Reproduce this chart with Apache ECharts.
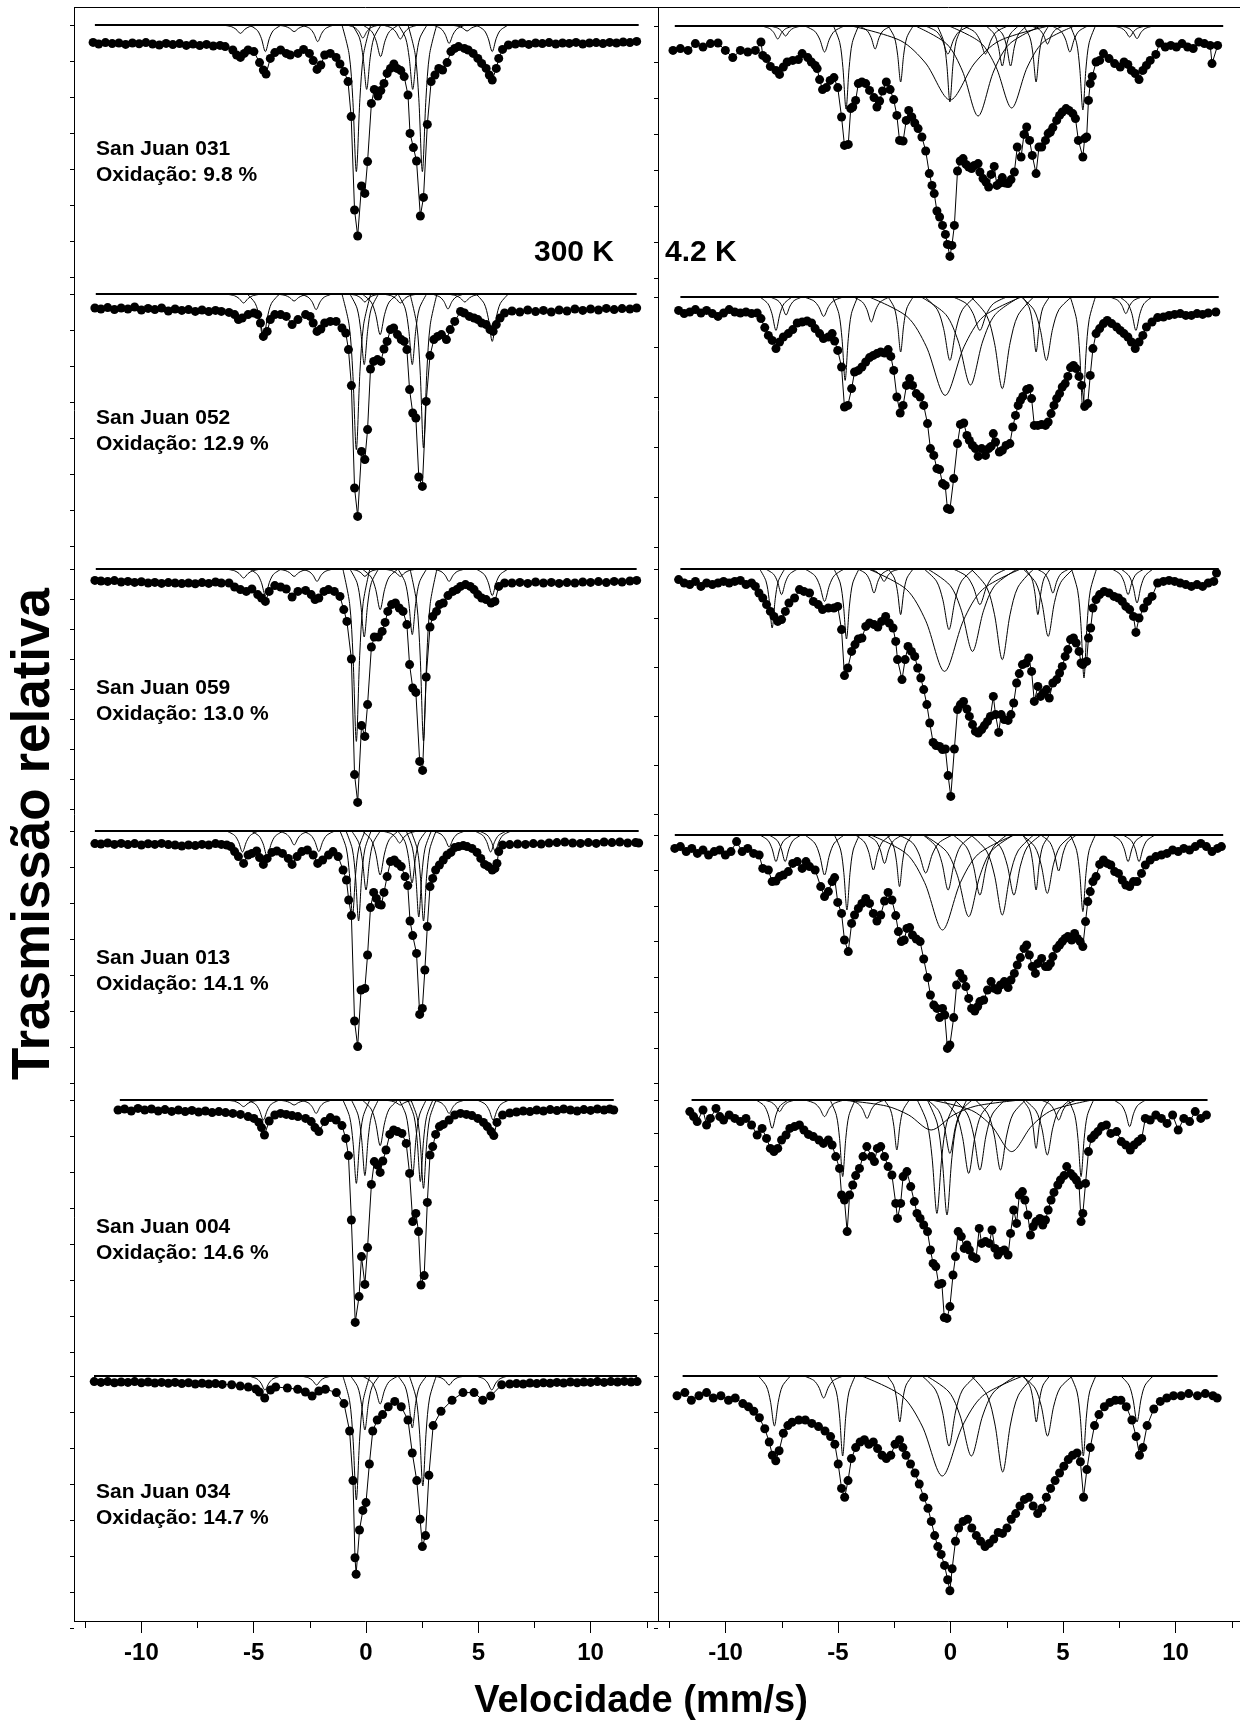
<!DOCTYPE html>
<html>
<head>
<meta charset="utf-8">
<script src="https://cdn.jsdelivr.net/npm/echarts@6/dist/echarts.min.js"></script>
<style>
html,body{margin:0;padding:0;background:#fff}
#chart{width:1240px;height:1726px}
</style>
</head>
<body>
<div id="chart"></div>
<script>
// Mössbauer spectra of San Juan samples: [velocity mm/s, relative transmission %]
// fitted sub-spectra: [centre mm/s, minimum %, half width mm/s]

const sampleNames = ['San Juan 031', 'San Juan 052', 'San Juan 059', 'San Juan 013', 'San Juan 004', 'San Juan 034'];
const oxidationPct = [9.8, 12.9, 13.0, 14.1, 14.6, 14.7];
const velocityTicks = [-10, -5, 0, 5, 10];
const fitSpan300K = [[-12.07, 12.14], [-12.03, 12.05], [-12.03, 12.05], [-12.07, 12.14], [-10.96, 11.03], [-12.11, 12.07]];
const fitSpan4K = [[-12.25, 12.25], [-12.0, 12.05], [-12.0, 12.05], [-12.25, 12.25], [-11.5, 11.55], [-11.9, 12.0]];

const sj031_300K = [
[-12.15,99.13],[-11.9,99.05],[-11.6,99.12],[-11.3,99.07],[-11.0,99.1],[-10.7,99.03],[-10.4,99.1],[-10.1,99.06],[-9.8,99.12],[-9.5,99.05],[-9.2,99.0],[-8.9,99.08],[-8.6,99.02],[-8.3,99.07],[-8.0,98.98],[-7.7,99.05],[-7.4,98.97],[-7.1,99.03],[-6.8,98.95],[-6.5,98.98],[-6.27,98.92],
[-5.93,98.75],[-5.76,98.5],[-5.59,98.38],[-5.42,98.58],[-5.25,98.75],[-4.99,98.67],[-4.74,98.12],[-4.57,97.75],[-4.45,97.55],[-4.26,98.33],[-4.06,98.62],[-3.8,98.75],[-3.55,98.58],[-3.37,98.5],[-3.03,98.58],[-2.78,98.78],[-2.52,98.58],[-2.35,98.22],[-2.18,97.78],[-2.01,98.0],[-1.84,98.5],[-1.59,98.58],[-1.33,98.38],[-1.16,98.05],[-0.97,97.67],[-0.8,97.17],[-0.66,95.42],[-0.51,90.75],[-0.37,89.45],[-0.2,91.95],[-0.05,91.58],[0.07,93.17],[0.24,96.08],[0.37,96.78],[0.53,96.45],[0.66,96.72],[0.8,97.08],[0.94,97.58],[1.09,97.83],[1.24,98.05],[1.38,97.83],[1.55,97.72],[1.7,97.42],[1.87,96.5],[1.96,94.58],[2.11,93.87],[2.25,93.2],[2.42,90.45],[2.56,91.38],[2.73,95.03],[2.9,97.17],[3.07,97.5],[3.24,97.83],[3.41,97.75],[3.61,98.12],[3.78,98.67],[3.95,98.83],[4.12,98.92],[4.38,98.83],[4.55,98.75],[4.77,98.58],[4.98,98.33],[5.15,98.08],[5.35,97.83],[5.49,97.5],[5.62,97.25],[5.8,97.83],[5.91,98.33],[6.08,98.78],[6.34,99.0],
[6.65,99.05],[6.95,99.1],[7.25,99.03],[7.55,99.1],[7.85,99.07],[8.15,99.12],[8.45,99.05],[8.75,99.1],[9.05,99.08],[9.35,99.13],[9.65,99.05],[9.95,99.1],[10.25,99.12],[10.55,99.07],[10.85,99.13],[11.15,99.1],[11.45,99.15],[11.75,99.12],[12.05,99.18]
];
const sj031_300K_sites = [[-0.43,92.67,0.16],[2.51,92.67,0.16],[0.03,96.78,0.16],[2.08,96.78,0.16],[0.65,98.42,0.2],[1.53,99.3,0.2],[-4.48,98.67,0.18],[-2.15,99.17,0.18],[-0.14,99.35,0.18],[3.7,99.08,0.18],[5.62,98.67,0.18],[-5.59,99.58,0.2],[-3.2,99.67,0.2],[4.5,99.7,0.2]];

const sj052_300K = [
[-12.07,99.3],[-11.8,99.25],[-11.5,99.32],[-11.2,99.22],[-10.9,99.3],[-10.6,99.25],[-10.3,99.35],[-10.0,99.2],[-9.7,99.28],[-9.4,99.22],[-9.1,99.3],[-8.8,99.15],[-8.5,99.25],[-8.2,99.18],[-7.9,99.22],[-7.6,99.13],[-7.3,99.2],[-7.0,99.12],[-6.7,99.18],[-6.44,99.13],[-6.1,99.08],
[-5.85,98.97],[-5.68,98.72],[-5.51,98.8],[-5.25,98.97],[-4.99,99.05],[-4.82,98.97],[-4.7,98.55],[-4.57,97.88],[-4.4,98.13],[-4.26,98.72],[-4.06,98.97],[-3.8,98.97],[-3.55,98.88],[-3.29,98.47],[-3.03,98.72],[-2.69,98.97],[-2.49,98.88],[-2.35,98.55],[-2.18,98.13],[-2.01,98.25],[-1.84,98.55],[-1.59,98.63],[-1.33,98.63],[-1.07,98.3],[-0.9,98.05],[-0.78,97.22],[-0.65,95.42],[-0.51,90.3],[-0.37,88.88],[-0.2,92.13],[-0.05,91.72],[0.07,93.22],[0.2,96.25],[0.34,96.63],[0.51,96.72],[0.66,96.63],[0.8,97.25],[0.94,97.63],[1.09,98.22],[1.23,98.3],[1.4,97.97],[1.57,97.72],[1.7,97.63],[1.82,97.22],[1.94,95.22],[2.08,94.05],[2.22,93.8],[2.35,90.85],[2.51,90.38],[2.68,94.63],[2.85,96.92],[3.02,97.72],[3.19,97.88],[3.36,97.97],[3.58,97.72],[3.75,98.22],[3.95,98.63],[4.21,99.13],[4.38,99.05],[4.6,98.88],[4.81,98.8],[4.98,98.72],[5.15,98.55],[5.35,98.47],[5.52,98.22],[5.66,98.13],[5.8,98.47],[5.97,98.8],[6.17,99.05],
[6.5,99.15],[6.85,99.1],[7.2,99.2],[7.55,99.12],[7.9,99.18],[8.25,99.1],[8.6,99.2],[8.95,99.15],[9.3,99.25],[9.65,99.18],[10.0,99.25],[10.35,99.2],[10.7,99.28],[11.05,99.22],[11.4,99.27],[11.75,99.25],[12.05,99.3]
];
const sj052_300K_sites = [[-0.43,92.22,0.16],[2.56,92.3,0.15],[-0.08,96.47,0.16],[2.06,96.47,0.16],[0.63,97.97,0.2],[1.53,99.55,0.2],[-4.57,97.65,0.18],[-2.22,99.22,0.18],[-0.05,99.6,0.18],[3.65,99.25,0.18],[5.62,97.63,0.18],[-5.45,99.55,0.2],[-3.2,99.65,0.2],[4.4,99.6,0.2]];

const sj059_300K = [
[-12.07,99.43],[-11.8,99.4],[-11.5,99.38],[-11.2,99.42],[-10.9,99.35],[-10.6,99.38],[-10.3,99.33],[-10.0,99.36],[-9.7,99.3],[-9.4,99.33],[-9.1,99.28],[-8.8,99.32],[-8.5,99.3],[-8.2,99.27],[-7.9,99.3],[-7.6,99.26],[-7.3,99.32],[-7.0,99.28],[-6.7,99.35],[-6.44,99.3],[-6.1,99.3],
[-5.85,99.1],[-5.59,98.97],[-5.33,98.88],[-5.08,99.0],[-4.82,98.72],[-4.65,98.55],[-4.48,98.38],[-4.31,98.88],[-4.06,99.17],[-3.8,99.1],[-3.55,99.0],[-3.29,98.6],[-3.03,98.88],[-2.69,98.93],[-2.44,98.72],[-2.27,98.47],[-2.1,98.55],[-1.87,98.88],[-1.67,98.97],[-1.41,98.88],[-1.16,98.63],[-0.99,97.97],[-0.85,97.38],[-0.65,95.5],[-0.51,89.72],[-0.37,88.33],[-0.2,92.17],[-0.05,91.63],[0.07,93.22],[0.24,96.1],[0.37,96.6],[0.55,96.6],[0.72,96.88],[0.85,97.33],[0.97,97.88],[1.14,98.22],[1.31,98.3],[1.48,98.05],[1.65,97.88],[1.82,97.22],[1.94,95.22],[2.08,94.05],[2.22,93.83],[2.39,90.38],[2.52,89.93],[2.68,94.6],[2.85,97.1],[2.97,97.63],[3.14,97.88],[3.27,98.22],[3.44,98.3],[3.65,98.67],[3.87,98.88],[4.04,98.97],[4.21,99.13],[4.43,99.22],[4.64,99.13],[4.81,98.97],[4.98,98.72],[5.15,98.55],[5.35,98.47],[5.57,98.3],[5.74,98.38],[5.91,99.13],[6.17,99.3],
[6.5,99.3],[6.85,99.33],[7.2,99.28],[7.55,99.35],[7.9,99.3],[8.25,99.33],[8.6,99.28],[8.95,99.32],[9.3,99.3],[9.65,99.35],[10.0,99.33],[10.35,99.37],[10.7,99.32],[11.05,99.38],[11.4,99.35],[11.75,99.4],[12.05,99.43]
];
const sj059_300K_sites = [[-0.43,91.38,0.15],[2.56,91.4,0.15],[-0.08,96.6,0.16],[2.06,96.72,0.16],[0.63,97.97,0.2],[1.53,99.63,0.2],[-4.48,98.67,0.18],[-2.18,99.38,0.18],[-0.05,99.63,0.18],[3.7,99.38,0.18],[5.62,98.67,0.18],[-5.45,99.55,0.2],[-3.2,99.63,0.2]];

const sj013_300K = [
[-12.07,99.37],[-11.8,99.35],[-11.5,99.4],[-11.2,99.33],[-10.9,99.38],[-10.6,99.32],[-10.3,99.37],[-10.0,99.3],[-9.7,99.36],[-9.4,99.33],[-9.1,99.38],[-8.8,99.32],[-8.5,99.3],[-8.2,99.25],[-7.9,99.3],[-7.6,99.27],[-7.3,99.33],[-7.0,99.3],[-6.7,99.37],[-6.44,99.33],[-6.2,99.3],
[-6.02,99.22],[-5.85,98.97],[-5.68,98.72],[-5.45,98.38],[-5.25,98.8],[-5.08,98.88],[-4.87,99.0],[-4.74,98.67],[-4.57,98.33],[-4.4,98.63],[-4.19,98.93],[-3.97,99.0],[-3.72,98.88],[-3.46,98.63],[-3.29,98.33],[-3.07,98.72],[-2.86,98.97],[-2.61,99.05],[-2.35,98.8],[-2.15,98.38],[-1.93,98.55],[-1.67,98.8],[-1.47,98.97],[-1.24,98.72],[-1.02,98.05],[-0.87,97.55],[-0.77,96.55],[-0.65,95.77],[-0.51,90.5],[-0.37,89.22],[-0.22,92.05],[-0.05,92.13],[0.07,93.8],[0.2,96.17],[0.34,96.93],[0.46,96.63],[0.58,96.33],[0.68,96.3],[0.8,96.93],[0.94,97.72],[1.09,98.47],[1.26,98.55],[1.4,98.38],[1.57,98.22],[1.74,97.72],[1.86,97.27],[1.96,95.5],[2.08,94.77],[2.25,93.88],[2.39,90.83],[2.51,91.13],[2.62,93.05],[2.73,95.22],[2.85,97.22],[2.97,97.63],[3.1,98.05],[3.27,98.3],[3.44,98.55],[3.61,98.8],[3.78,98.93],[3.95,99.17],[4.12,99.22],[4.33,99.27],[4.5,99.22],[4.72,99.13],[4.94,98.93],[5.11,98.63],[5.28,98.33],[5.45,98.22],[5.62,98.05],[5.74,98.13],[5.83,98.38],[5.91,98.97],[6.08,99.3],
[6.4,99.32],[6.75,99.35],[7.1,99.33],[7.45,99.37],[7.8,99.35],[8.15,99.4],[8.5,99.42],[8.85,99.45],[9.2,99.4],[9.55,99.38],[9.9,99.42],[10.25,99.38],[10.6,99.45],[10.95,99.42],[11.3,99.45],[11.65,99.4],[12.0,99.42],[12.14,99.4]
];
const sj013_300K_sites = [[-0.6,95.75,0.14],[-0.33,95.5,0.14],[0.0,97.05,0.16],[0.63,97.8,0.2],[2.05,97.4,0.16],[2.35,95.7,0.14],[2.56,95.5,0.14],[1.5,99.4,0.2],[-5.5,98.95,0.18],[-4.4,98.72,0.18],[-3.2,99.3,0.18],[-2.1,98.97,0.18],[3.7,99.2,0.18],[5.55,98.95,0.18],[5.75,99.0,0.18]];

const sj004_300K = [
[-11.04,99.5],[-10.75,99.55],[-10.45,99.45],[-10.15,99.58],[-9.85,99.5],[-9.55,99.55],[-9.25,99.45],[-8.95,99.52],[-8.65,99.43],[-8.35,99.5],[-8.05,99.42],[-7.75,99.48],[-7.45,99.4],[-7.15,99.45],[-6.85,99.37],[-6.55,99.42],[-6.25,99.37],[-5.93,99.33],
[-5.59,99.28],[-5.25,99.17],[-4.99,99.08],[-4.77,98.88],[-4.65,98.62],[-4.52,98.25],[-4.31,98.95],[-4.06,99.25],[-3.8,99.33],[-3.55,99.28],[-3.29,99.22],[-3.03,99.17],[-2.69,99.08],[-2.44,98.92],[-2.27,98.62],[-2.1,98.42],[-1.84,98.92],[-1.59,99.12],[-1.33,99.0],[-1.07,98.72],[-0.9,98.08],[-0.78,97.22],[-0.65,94.0],[-0.48,88.88],[-0.31,90.17],[-0.2,92.17],[-0.05,90.78],[0.07,92.62],[0.24,95.78],[0.37,96.92],[0.51,96.75],[0.63,96.38],[0.75,96.95],[0.89,97.5],[1.06,98.28],[1.23,98.5],[1.4,98.42],[1.6,98.33],[1.79,97.83],[1.94,96.33],[2.08,93.92],[2.22,94.33],[2.34,93.42],[2.45,90.75],[2.59,91.22],[2.73,94.88],[2.85,97.25],[2.97,97.67],[3.1,98.28],[3.27,98.67],[3.44,98.78],[3.7,99.0],[3.95,99.25],[4.21,99.33],[4.47,99.28],[4.72,99.22],[4.98,99.08],[5.23,98.88],[5.4,98.67],[5.57,98.42],[5.69,98.22],[5.83,98.88],[6.08,99.25],
[6.4,99.35],[6.7,99.4],[7.0,99.45],[7.3,99.42],[7.6,99.5],[7.9,99.45],[8.2,99.52],[8.5,99.47],[8.8,99.55],[9.1,99.5],[9.4,99.45],[9.7,99.52],[10.0,99.48],[10.3,99.55],[10.6,99.5],[10.85,99.55],[11.03,99.5]
];
const sj004_300K_sites = [[-0.43,95.83,0.15],[-0.05,96.22,0.15],[0.63,97.72,0.2],[2.08,96.25,0.15],[2.42,95.92,0.14],[2.56,95.58,0.14],[1.53,99.75,0.2],[-4.57,99.0,0.18],[-2.22,99.33,0.18],[3.7,99.33,0.18],[5.66,99.0,0.18],[-5.45,99.67,0.2],[-3.2,99.75,0.2]];

const sj034_300K = [
[-12.1,99.72],[-11.8,99.68],[-11.5,99.72],[-11.2,99.66],[-10.9,99.7],[-10.6,99.68],[-10.3,99.72],[-10.0,99.66],[-9.7,99.7],[-9.4,99.65],[-9.1,99.68],[-8.8,99.64],[-8.5,99.68],[-8.2,99.62],[-7.9,99.66],[-7.6,99.6],[-7.3,99.64],[-7.0,99.6],[-6.7,99.62],[-6.4,99.58],
[-5.98,99.56],[-5.6,99.5],[-5.24,99.45],[-4.9,99.35],[-4.75,99.2],[-4.51,98.9],[-4.25,99.3],[-4.02,99.45],[-3.5,99.4],[-3.04,99.34],[-2.7,99.2],[-2.4,99.0],[-2.1,99.25],[-1.81,99.34],[-1.32,99.17],[-0.98,98.62],[-0.73,97.25],[-0.58,94.77],[-0.49,90.91],[-0.44,90.09],[-0.29,92.3],[-0.14,93.28],[0.0,93.67],[0.15,95.6],[0.3,97.25],[0.5,97.8],[0.74,98.07],[0.99,98.46],[1.28,98.73],[1.57,98.46],[1.87,97.8],[2.06,96.15],[2.26,94.77],[2.41,92.84],[2.51,91.47],[2.65,92.02],[2.8,95.04],[2.99,97.52],[3.34,98.24],[3.83,98.79],[4.32,99.17],[4.81,99.17],[5.2,98.79],[5.55,99.0],[6.04,99.56],
[6.4,99.6],[6.7,99.62],[7.0,99.6],[7.3,99.65],[7.6,99.62],[7.9,99.66],[8.2,99.64],[8.5,99.68],[8.8,99.65],[9.1,99.7],[9.4,99.66],[9.7,99.7],[10.0,99.68],[10.3,99.72],[10.6,99.68],[10.9,99.72],[11.2,99.7],[11.5,99.73],[11.8,99.7],[12.07,99.72]
];
const sj034_300K_sites = [[-0.43,93.8,0.15],[2.53,94.5,0.15],[-0.05,97.3,0.16],[2.06,97.4,0.16],[0.63,98.6,0.2],[-4.5,99.3,0.18],[-2.2,99.55,0.18],[3.7,99.55,0.18],[5.6,99.3,0.18]];

const sj031_4K = [
[-12.33,98.78],[-12.0,98.87],[-11.66,98.78],[-11.33,99.12],[-10.99,98.95],[-10.66,99.12],[-10.32,99.15],[-9.99,98.78],[-9.66,98.42],[-9.32,98.78],[-8.99,98.7],[-8.65,98.78],[-8.4,99.2],[-8.32,98.53],[-8.15,98.37],[-7.98,97.98],[-7.73,97.78],[-7.57,97.58],[-7.4,97.95],[-7.23,98.2],[-6.98,98.28],[-6.73,98.32],[-6.56,98.62],[-6.31,98.42],[-6.15,98.2],[-5.98,98.03],[-5.89,97.87],[-5.78,97.32],[-5.65,96.82],[-5.48,96.92],[-5.31,97.28],[-5.14,97.42],[-4.97,96.92],[-4.8,95.45],[-4.67,94.03],[-4.5,94.08],[-4.39,95.87],[-4.3,95.95],[-4.17,96.28],[-4.05,97.12],[-3.89,97.2],[-3.72,97.12],[-3.55,96.78],[-3.35,96.42],[-3.22,95.95],[-3.1,96.25],[-2.97,96.75],[-2.8,97.2],[-2.63,96.82],[-2.47,96.32],[-2.33,95.53],[-2.21,94.28],[-2.05,94.25],[-1.91,95.28],[-1.8,95.78],[-1.66,95.45],[-1.53,95.15],[-1.38,94.87],[-1.21,94.45],[-1.04,93.75],[-0.88,92.62],[-0.76,92.03],[-0.66,91.62],[-0.54,90.75],[-0.42,90.45],[-0.29,90.03],[-0.16,89.58],[-0.07,89.08],[0.04,88.48],[0.13,89.03],[0.24,90.03],[0.38,92.75],[0.5,93.25],[0.63,93.37],[0.76,93.08],[0.88,92.95],[1.01,92.87],[1.13,93.03],[1.3,93.12],[1.38,92.7],[1.52,92.37],[1.65,92.2],[1.77,91.95],[1.88,92.58],[2.02,92.98],[2.14,92.03],[2.27,92.15],[2.38,92.42],[2.52,92.15],[2.64,92.12],[2.77,92.32],[2.92,92.7],[3.05,93.95],[3.22,93.45],[3.35,94.58],[3.47,94.95],[3.6,94.28],[3.72,93.53],[3.89,92.62],[4.02,93.95],[4.14,93.95],[4.31,94.28],[4.43,94.62],[4.53,94.7],[4.64,94.92],[4.81,95.28],[4.94,95.53],[5.06,95.7],[5.23,95.87],[5.36,95.78],[5.53,95.62],[5.65,95.37],[5.78,94.28],[5.98,93.45],[6.06,94.37],[6.15,94.45],[6.23,96.28],[6.31,97.12],[6.4,97.48],[6.57,98.2],[6.73,98.28],[6.9,98.62],[7.15,98.37],[7.4,98.12],[7.65,97.95],[7.82,98.2],[7.99,98.08],[8.15,97.78],[8.32,97.62],[8.49,97.32],[8.66,97.78],[8.82,98.03],[8.99,98.28],[9.24,98.58],[9.41,99.15],[9.66,98.95],[9.91,99.03],[10.16,98.95],[10.41,99.12],[10.66,98.95],[10.91,98.87],[11.16,99.2],[11.41,99.12],[11.67,99.03],[11.75,98.12],[12.0,99.03]
];
const sj031_4K_sites = [[-7.65,99.35,0.18],[-7.3,99.5,0.18],[-5.56,98.7,0.22],[-4.6,95.85,0.14],[-3.3,98.85,0.18],[-2.16,97.2,0.14],[0.04,96.2,0.14],[-0.05,98.6,0.25],[1.63,98.6,0.25],[2.38,98.0,0.18],[2.75,98.0,0.18],[3.89,97.2,0.14],[4.4,99.1,0.18],[5.4,98.7,0.2],[5.98,95.8,0.14],[8.07,99.45,0.18],[8.4,99.37,0.18],[0.05,96.3,1.1],[1.3,95.5,0.7],[2.8,95.9,0.7]];

const sj052_4K = [
[-12.08,99.33],[-11.83,99.17],[-11.58,99.25],[-11.33,99.37],[-11.08,99.2],[-10.83,99.33],[-10.57,99.17],[-10.32,99.03],[-10.07,99.2],[-9.82,99.37],[-9.57,99.25],[-9.32,99.2],[-9.07,99.25],[-8.82,99.17],[-8.57,99.2],[-8.4,98.92],[-8.23,98.47],[-8.07,98.08],[-7.9,97.83],[-7.73,97.42],[-7.57,97.75],[-7.4,98.0],[-7.18,98.17],[-6.98,98.37],[-6.78,98.7],[-6.56,98.75],[-6.34,98.8],[-6.14,98.7],[-5.98,98.42],[-5.78,98.17],[-5.61,97.92],[-5.39,98.0],[-5.22,98.17],[-5.11,97.8],[-4.97,97.33],[-4.8,96.5],[-4.67,94.5],[-4.52,94.58],[-4.35,95.42],[-4.22,96.25],[-4.05,96.33],[-3.89,96.5],[-3.72,96.75],[-3.55,96.97],[-3.38,97.08],[-3.22,97.17],[-3.05,97.25],[-2.88,97.2],[-2.72,97.37],[-2.6,97.03],[-2.47,96.33],[-2.33,95.0],[-2.18,94.2],[-2.05,94.58],[-1.9,95.58],[-1.76,95.92],[-1.63,95.58],[-1.46,95.17],[-1.29,95.0],[-1.13,94.58],[-0.96,93.67],[-0.83,92.42],[-0.68,92.08],[-0.54,91.42],[-0.42,91.37],[-0.29,90.67],[-0.17,90.58],[-0.07,89.42],[0.04,89.37],[0.21,90.92],[0.38,92.67],[0.51,93.63],[0.66,93.7],[0.8,93.08],[0.91,92.83],[1.05,92.58],[1.18,92.42],[1.3,92.03],[1.46,92.42],[1.63,92.08],[1.77,92.42],[1.88,92.53],[1.98,93.17],[2.08,92.75],[2.25,92.25],[2.38,92.33],[2.55,92.58],[2.72,92.67],[2.85,93.5],[2.97,94.08],[3.09,94.58],[3.19,94.83],[3.3,95.03],[3.47,95.37],[3.59,95.42],[3.69,94.92],[3.81,93.58],[3.97,93.58],[4.14,93.63],[4.31,93.58],[4.43,93.75],[4.56,94.17],[4.69,94.58],[4.81,94.92],[4.94,95.17],[5.06,95.5],[5.19,95.67],[5.31,96.03],[5.43,96.47],[5.56,96.58],[5.68,96.42],[5.81,96.03],[5.93,95.58],[6.06,94.53],[6.2,94.67],[6.31,96.08],[6.43,97.42],[6.57,98.17],[6.73,98.42],[6.9,98.67],[7.07,98.83],[7.27,98.67],[7.49,98.5],[7.65,98.33],[7.82,98.17],[7.99,98.0],[8.15,97.75],[8.32,97.42],[8.49,97.75],[8.66,98.08],[8.82,98.5],[9.07,98.75],[9.32,98.97],[9.58,99.0],[9.83,99.08],[10.08,99.13],[10.33,99.17],[10.58,99.08],[10.83,99.08],[11.08,99.17],[11.33,99.13],[11.58,99.2],[11.92,99.25]
];
const sj052_4K_sites = [[-7.73,98.33,0.18],[-7.28,99.1,0.18],[-5.6,99.03,0.22],[-4.64,95.83,0.14],[-3.47,98.75,0.2],[-2.16,97.25,0.14],[0.04,96.83,0.28],[-0.17,95.08,0.85],[0.96,95.6,0.55],[1.38,98.33,0.3],[2.38,95.42,0.35],[3.89,97.25,0.15],[4.35,96.83,0.28],[5.98,94.33,0.14],[7.9,99.17,0.18],[8.35,98.33,0.18]];

const sj059_4K = [
[-12.08,99.47],[-11.83,99.3],[-11.58,99.22],[-11.33,99.38],[-11.08,99.13],[-10.83,99.3],[-10.57,99.22],[-10.32,99.3],[-10.07,99.38],[-9.82,99.3],[-9.57,99.38],[-9.32,99.43],[-9.07,99.22],[-8.82,99.3],[-8.65,99.13],[-8.49,98.8],[-8.32,98.55],[-8.15,98.22],[-7.98,97.88],[-7.82,97.63],[-7.65,97.38],[-7.48,97.47],[-7.31,97.88],[-7.15,98.3],[-6.9,98.55],[-6.68,98.97],[-6.48,98.88],[-6.23,98.8],[-6.06,98.38],[-5.84,98.22],[-5.65,97.97],[-5.39,98.05],[-5.14,98.05],[-4.97,98.13],[-4.8,96.97],[-4.67,94.67],[-4.52,95.05],[-4.35,95.88],[-4.2,96.22],[-4.05,96.5],[-3.89,96.55],[-3.72,97.13],[-3.55,97.3],[-3.35,97.22],[-3.18,97.1],[-3.01,97.38],[-2.83,97.63],[-2.67,97.3],[-2.5,97.05],[-2.38,96.38],[-2.3,95.47],[-2.1,94.47],[-1.96,95.47],[-1.83,96.13],[-1.68,95.88],[-1.53,95.63],[-1.4,95.05],[-1.26,94.55],[-1.13,93.97],[-0.99,93.22],[-0.86,92.3],[-0.71,91.33],[-0.58,91.17],[-0.42,91.13],[-0.29,90.97],[-0.16,91.0],[-0.04,89.67],[0.08,88.63],[0.24,91.0],[0.38,92.97],[0.51,93.22],[0.65,93.38],[0.8,93.0],[0.91,92.63],[1.05,92.22],[1.18,91.88],[1.31,91.8],[1.46,91.97],[1.58,92.17],[1.72,92.38],[1.85,92.63],[1.98,93.63],[2.08,92.72],[2.22,91.83],[2.33,92.72],[2.47,92.47],[2.64,92.43],[2.77,92.72],[2.89,93.3],[3.02,94.3],[3.14,94.77],[3.28,95.22],[3.44,95.3],[3.56,95.55],[3.69,94.88],[3.81,93.38],[3.97,94.13],[4.09,93.63],[4.22,93.8],[4.36,93.97],[4.48,93.55],[4.64,94.3],[4.81,94.47],[4.94,94.8],[5.06,95.13],[5.19,95.63],[5.31,95.97],[5.43,96.47],[5.56,96.55],[5.68,96.3],[5.81,95.88],[5.9,95.3],[5.98,95.22],[6.15,95.38],[6.23,96.55],[6.33,97.05],[6.43,98.05],[6.57,98.47],[6.73,98.72],[6.93,98.88],[7.15,98.8],[7.37,98.63],[7.57,98.55],[7.74,98.38],[7.9,98.13],[8.07,97.97],[8.24,97.63],[8.35,96.83],[8.49,97.55],[8.7,98.05],[8.87,98.38],[9.07,98.63],[9.32,99.3],[9.58,99.38],[9.83,99.43],[10.08,99.38],[10.33,99.3],[10.58,99.22],[10.83,99.13],[11.08,99.22],[11.33,99.13],[11.58,99.3],[11.83,99.38],[11.95,99.8]
];
const sj059_4K_sites = [[-7.9,97.05,0.14],[-7.48,98.72,0.18],[-5.56,98.38,0.22],[-4.58,96.5,0.14],[-3.35,98.8,0.18],[-2.9,99.38,0.18],[-2.16,97.72,0.14],[0.0,96.97,0.28],[-0.2,94.88,0.85],[1.05,95.88,0.5],[1.38,98.22,0.3],[2.38,95.47,0.35],[3.97,97.72,0.14],[4.43,96.63,0.28],[4.64,98.8,0.18],[6.03,94.55,0.14],[8.0,98.72,0.18],[8.4,98.3,0.18]];

const sj013_4K = [
[-12.25,99.33],[-12.0,99.42],[-11.74,99.17],[-11.49,99.33],[-11.24,99.08],[-10.99,99.25],[-10.74,99.0],[-10.49,99.17],[-10.24,99.25],[-9.99,99.0],[-9.74,99.17],[-9.49,99.67],[-9.24,99.17],[-8.99,99.33],[-8.73,99.08],[-8.48,99.0],[-8.32,98.33],[-8.07,98.25],[-7.9,97.67],[-7.73,97.7],[-7.57,97.92],[-7.4,98.0],[-7.18,98.17],[-6.98,98.58],[-6.78,98.67],[-6.56,98.33],[-6.39,98.67],[-6.23,98.42],[-5.98,98.25],[-5.73,97.42],[-5.56,96.92],[-5.39,97.17],[-5.22,97.67],[-5.11,97.87],[-4.97,96.63],[-4.8,96.08],[-4.67,94.75],[-4.5,94.17],[-4.35,95.58],[-4.22,96.0],[-4.05,96.33],[-3.89,96.58],[-3.72,96.83],[-3.55,96.58],[-3.38,96.08],[-3.22,95.7],[-3.05,96.0],[-2.88,96.7],[-2.72,97.13],[-2.55,96.75],[-2.38,95.97],[-2.26,95.17],[-2.13,94.67],[-2.0,94.75],[-1.88,95.33],[-1.76,95.37],[-1.63,95.0],[-1.46,94.8],[-1.29,94.67],[-1.13,93.8],[-0.96,92.87],[-0.83,92.0],[-0.68,91.5],[-0.54,91.33],[-0.42,90.87],[-0.29,91.33],[-0.19,91.0],[-0.07,89.33],[0.04,89.5],[0.21,90.87],[0.34,92.5],[0.48,93.08],[0.63,92.83],[0.75,92.42],[0.88,91.83],[1.01,91.33],[1.15,91.2],[1.28,91.42],[1.38,91.67],[1.55,91.75],[1.72,92.25],[1.88,92.67],[2.02,92.33],[2.17,92.25],[2.3,92.5],[2.47,92.67],[2.64,92.37],[2.77,92.75],[2.92,93.08],[3.05,93.5],[3.19,93.87],[3.35,94.33],[3.47,94.5],[3.59,94.0],[3.72,93.42],[3.86,93.08],[3.97,93.58],[4.14,93.83],[4.31,93.42],[4.43,93.42],[4.53,93.58],[4.64,93.92],[4.81,94.33],[4.94,94.5],[5.06,94.67],[5.19,94.83],[5.31,94.92],[5.48,94.75],[5.61,95.08],[5.73,94.83],[5.86,94.67],[5.98,94.42],[6.1,95.67],[6.2,96.67],[6.31,97.17],[6.43,97.67],[6.57,97.92],[6.73,98.53],[6.9,98.75],[7.07,98.58],[7.23,98.5],[7.4,98.17],[7.57,98.08],[7.74,97.75],[7.9,97.5],[8.07,97.42],[8.24,97.67],[8.4,97.67],[8.6,98.08],[8.77,98.5],[8.99,98.75],[9.24,98.92],[9.49,99.0],[9.74,99.08],[9.99,99.25],[10.24,99.17],[10.49,99.33],[10.75,99.25],[11.0,99.42],[11.25,99.58],[11.5,99.42],[11.75,99.17],[12.0,99.33],[12.17,99.42]
];
const sj013_4K_sites = [[-7.73,98.67,0.18],[-7.32,98.67,0.18],[-5.56,98.0,0.22],[-4.56,96.25,0.14],[-3.38,98.25,0.2],[-2.88,98.58,0.2],[-2.21,97.42,0.14],[-1.04,98.1,0.3],[-0.04,97.25,0.28],[-0.29,95.25,0.8],[0.88,95.92,0.5],[1.38,97.0,0.3],[2.38,96.0,0.35],[2.9,97.0,0.3],[3.89,97.25,0.15],[4.39,97.08,0.28],[4.9,98.2,0.2],[5.98,96.17,0.14],[8.0,98.67,0.18],[8.49,98.67,0.18]];

const sj004_4K = [
[-11.58,99.42],[-11.41,99.17],[-11.25,98.92],[-10.99,99.5],[-10.83,98.75],[-10.66,99.08],[-10.41,99.58],[-10.24,99.17],[-10.07,99.0],[-9.82,99.25],[-9.57,99.08],[-9.32,98.92],[-9.07,99.08],[-8.82,98.75],[-8.57,98.25],[-8.35,98.58],[-8.15,98.08],[-7.98,97.58],[-7.82,97.42],[-7.65,97.58],[-7.48,98.0],[-7.28,98.25],[-7.11,98.58],[-6.9,98.67],[-6.68,98.75],[-6.48,98.5],[-6.28,98.28],[-6.06,98.17],[-5.81,98.0],[-5.61,97.83],[-5.39,98.0],[-5.22,97.75],[-5.06,97.17],[-4.89,96.58],[-4.8,95.25],[-4.67,95.0],[-4.55,93.42],[-4.44,95.25],[-4.3,95.75],[-4.17,96.22],[-4.0,96.58],[-3.84,97.17],[-3.67,97.67],[-3.47,97.17],[-3.33,96.92],[-3.2,97.58],[-3.05,97.67],[-2.88,97.17],[-2.72,96.67],[-2.55,96.25],[-2.38,94.83],[-2.3,94.08],[-2.16,94.83],[-2.05,96.17],[-1.88,96.42],[-1.71,95.67],[-1.55,94.92],[-1.43,94.33],[-1.29,94.08],[-1.13,93.75],[-0.96,93.42],[-0.83,92.5],[-0.71,91.83],[-0.59,91.67],[-0.46,90.78],[-0.32,90.83],[-0.21,89.12],[-0.09,89.08],[0.04,89.67],[0.18,91.25],[0.29,92.17],[0.41,93.42],[0.55,93.17],[0.68,92.58],[0.8,92.75],[0.91,92.5],[1.05,92.17],[1.21,92.08],[1.35,93.58],[1.46,92.83],[1.63,92.92],[1.8,92.83],[1.92,93.5],[2.05,92.58],[2.18,92.25],[2.3,92.42],[2.47,92.5],[2.64,92.25],[2.75,93.33],[2.89,94.5],[3.02,93.83],[3.14,95.25],[3.28,95.42],[3.39,95.0],[3.52,94.25],[3.64,93.25],[3.76,93.67],[3.89,93.92],[4.06,94.08],[4.19,93.75],[4.31,94.0],[4.43,94.5],[4.56,95.0],[4.69,95.38],[4.86,95.75],[4.98,96.0],[5.14,96.22],[5.26,96.67],[5.43,96.33],[5.56,96.17],[5.69,96.0],[5.81,95.75],[5.9,93.92],[5.98,94.33],[6.1,95.83],[6.23,97.42],[6.36,98.08],[6.5,98.25],[6.65,98.42],[6.82,98.67],[7.03,98.75],[7.23,98.33],[7.49,98.42],[7.7,97.92],[7.9,97.75],[8.1,97.5],[8.27,97.75],[8.44,97.92],[8.61,98.08],[8.77,99.08],[8.99,99.0],[9.24,99.25],[9.49,99.08],[9.74,98.83],[9.99,99.25],[10.24,98.5],[10.49,99.08],[10.75,98.92],[11.0,99.42],[11.25,99.08],[11.5,99.25]
];
const sj004_4K_sites = [[-7.9,98.58,0.18],[-7.57,99.42,0.18],[-5.56,99.17,0.22],[-4.75,96.17,0.14],[-3.66,99.08,0.2],[-2.33,97.5,0.14],[-0.54,94.33,0.22],[-0.09,94.25,0.22],[0.04,97.33,0.25],[-0.8,98.5,1.0],[0.88,96.33,0.28],[1.38,96.5,0.28],[2.3,96.5,0.28],[2.8,97.42,0.9],[3.89,97.58,0.15],[4.39,97.25,0.25],[4.9,99.0,0.2],[5.9,96.17,0.14],[8.07,98.67,0.18]];

const sj034_4K = [
[-12.15,99.01],[-11.8,99.17],[-11.51,98.79],[-11.17,99.01],[-10.83,99.17],[-10.53,98.9],[-10.19,99.01],[-9.85,98.79],[-9.55,98.9],[-9.21,98.62],[-8.96,98.46],[-8.72,98.24],[-8.47,97.91],[-8.23,97.36],[-8.03,96.7],[-7.89,96.04],[-7.74,95.76],[-7.59,96.26],[-7.4,97.14],[-7.2,97.52],[-7.01,97.69],[-6.71,97.8],[-6.42,97.8],[-6.13,97.63],[-5.83,97.47],[-5.54,97.25],[-5.29,96.97],[-5.1,96.59],[-4.95,95.6],[-4.8,94.38],[-4.66,93.94],[-4.51,94.77],[-4.36,95.87],[-4.17,96.42],[-3.97,96.7],[-3.78,96.81],[-3.58,96.59],[-3.38,96.7],[-3.19,96.37],[-2.99,96.04],[-2.8,95.87],[-2.6,96.04],[-2.41,96.59],[-2.21,96.81],[-2.06,96.42],[-1.92,96.04],[-1.72,95.6],[-1.52,95.15],[-1.33,94.6],[-1.13,93.94],[-0.94,93.39],[-0.79,92.73],[-0.64,92.02],[-0.5,91.47],[-0.35,91.08],[-0.2,90.53],[-0.06,89.81],[0.04,89.26],[0.14,90.36],[0.29,91.74],[0.43,92.4],[0.63,92.73],[0.83,92.84],[1.02,92.4],[1.22,92.02],[1.41,91.74],[1.61,91.47],[1.8,91.63],[2.0,91.85],[2.2,92.18],[2.39,92.13],[2.59,92.4],[2.78,92.84],[2.98,93.12],[3.17,93.5],[3.37,93.83],[3.57,93.94],[3.76,93.5],[3.96,93.12],[4.15,93.39],[4.35,93.94],[4.54,94.38],[4.74,94.77],[4.94,95.15],[5.13,95.49],[5.33,95.82],[5.52,96.04],[5.72,96.15],[5.87,95.71],[6.01,93.94],[6.16,95.32],[6.31,96.42],[6.5,97.52],[6.7,98.07],[6.94,98.46],[7.19,98.68],[7.43,98.79],[7.68,98.79],[7.92,98.46],[8.17,97.8],[8.36,96.97],[8.51,96.04],[8.66,96.42],[8.85,97.52],[9.15,98.35],[9.44,98.73],[9.73,98.9],[10.03,99.01],[10.37,99.01],[10.71,99.12],[11.1,99.01],[11.45,99.12],[11.79,99.01],[11.98,98.9]
];
const sj034_4K_sites = [[-7.8,97.5,0.18],[-5.6,98.9,0.22],[-4.75,96.0,0.14],[-2.2,97.7,0.14],[0.0,96.5,0.3],[-0.3,95.0,0.9],[1.0,96.0,0.5],[2.4,95.2,0.35],[3.9,97.7,0.15],[4.4,97.0,0.28],[6.0,96.0,0.14],[8.4,97.7,0.18]];

// ---- assembly ----
const spectra300K = [sj031_300K, sj052_300K, sj059_300K, sj013_300K, sj004_300K, sj034_300K];
const spectra4K = [sj031_4K, sj052_4K, sj059_4K, sj013_4K, sj004_4K, sj034_4K];
const sites300K = [sj031_300K_sites, sj052_300K_sites, sj059_300K_sites, sj013_300K_sites, sj004_300K_sites, sj034_300K_sites];
const sites4K = [sj031_4K_sites, sj052_4K_sites, sj059_4K_sites, sj013_4K_sites, sj004_4K_sites, sj034_4K_sites];

const FONT = '"Liberation Sans", Arial, Helvetica, sans-serif';
const COLS = [{left: 74, width: 584}, {left: 658, width: 585}];
// top = pixel row of the 100 % line, step = y tick step (%), n = number of steps
const ROWS = [
  {top: [25, 26], step: [1.8, 1.8], n: [7, 7], label: 149},
  {top: [294, 297], step: [1.8, 2.5], n: [7, 5], label: 418},
  {top: [569, 569], step: [1.5, 2.45], n: [8, 5], label: 688},
  {top: [831, 835], step: [1.8, 1.775], n: [7, 7], label: 958},
  {top: [1100, 1100], step: [1.8, 1.665], n: [7, 7], label: 1227},
  {top: [1376, 1376], step: [1.8, 1.8], n: [7, 7], label: 1492}
];
const PX_PER_PCT = 20;
const AXIS_Y = 1621;
// line-shape template of a single absorption line: [offset in half widths, fraction of depth]
const PROFILE = [[-4, 0], [-2, 0.2], [-1, 0.5], [0, 1], [1, 0.5], [2, 0.2], [4, 0]];

function siteLines(sites) {
  const pts = [];
  sites.forEach(([c, m, w]) => {
    const d = 100 - m;
    PROFILE.forEach(([k, f]) => pts.push([c + k * w, 100 - f * d]));
    pts.push(['-', '-']);
  });
  return pts;
}

const grid = [], xAxis = [], yAxis = [], series = [];

ROWS.forEach((row, r) => {
  [0, 1].forEach(c => {
    const gi = grid.length;
    const step = row.step[c], n = row.n[c];
    const yMin = Math.round((100 - step * n) * 1000) / 1000;
    grid.push({left: COLS[c].left, width: COLS[c].width, top: row.top[c], height: (100 - yMin) * PX_PER_PCT});
    xAxis.push({gridIndex: gi, type: 'value', min: -13, max: 13, show: false});
    yAxis.push({
      gridIndex: gi, type: 'value', min: yMin, max: 100, interval: step, position: 'left',
      axisLine: {show: false, onZero: false},
      axisTick: {show: true, inside: false, length: 4, lineStyle: {color: '#000', width: 1}},
      axisLabel: {show: false}, splitLine: {show: false}
    });
    const span = (c ? fitSpan4K : fitSpan300K)[r];
    const sites = (c ? sites4K : sites300K)[r];
    const spec = (c ? spectra4K : spectra300K)[r];
    series.push({
      type: 'line', xAxisIndex: gi, yAxisIndex: gi, data: [[span[0], 100], [span[1], 100]],
      symbol: 'none', lineStyle: {color: '#000', width: 2}, silent: true, clip: false, z: 2
    });
    series.push({
      type: 'line', xAxisIndex: gi, yAxisIndex: gi, data: siteLines(sites),
      symbol: 'none', smooth: 0.3, connectNulls: false,
      lineStyle: {color: '#000', width: 1}, silent: true, clip: false, z: 2
    });
    series.push({
      type: 'line', xAxisIndex: gi, yAxisIndex: gi, data: spec,
      symbol: 'circle', symbolSize: 9, showAllSymbol: true,
      itemStyle: {color: '#000'}, lineStyle: {color: '#000', width: 1},
      silent: true, clip: false, z: 3
    });
  });
});

// velocity axes under each column: minor ticks every 2.5 mm/s, labelled major ticks every 5 mm/s
COLS.forEach(col => {
  const ppu = col.width / 26, zero = col.left + 13 * ppu;
  let gi = grid.length;
  grid.push({left: zero - 12.5 * ppu, width: 25 * ppu, top: AXIS_Y - 20, height: 20});
  xAxis.push({
    gridIndex: gi, type: 'value', min: -12.5, max: 12.5, interval: 2.5, position: 'bottom',
    axisLine: {show: false, onZero: false}, axisTick: {show: true, length: 7, lineStyle: {color: '#000', width: 1}},
    axisLabel: {show: false}, splitLine: {show: false}
  });
  yAxis.push({gridIndex: gi, type: 'value', show: false});
  gi = grid.length;
  const vMin = velocityTicks[0], vMax = velocityTicks[velocityTicks.length - 1];
  grid.push({left: zero + vMin * ppu, width: (vMax - vMin) * ppu, top: AXIS_Y - 20, height: 20});
  xAxis.push({
    gridIndex: gi, type: 'value', min: vMin, max: vMax, interval: velocityTicks[1] - velocityTicks[0], position: 'bottom',
    axisLine: {show: false, onZero: false}, axisTick: {show: true, length: 12, lineStyle: {color: '#000', width: 1}},
    axisLabel: {show: true, color: '#000', fontSize: 24, fontWeight: 'bold', fontFamily: FONT, margin: 20},
    splitLine: {show: false}
  });
  yAxis.push({gridIndex: gi, type: 'value', show: false});
});

const graphic = [];
function seg(x1, y1, x2, y2) {
  return {type: 'line', shape: {x1, y1, x2, y2}, style: {stroke: '#000', lineWidth: 1}, silent: true, z: 10};
}
function label(x, y, text, size, align, rot) {
  return {
    type: 'text', x, y, rotation: rot || 0, silent: true, z: 10,
    style: {
      text, fill: '#000', font: 'bold ' + size + 'px ' + FONT,
      textAlign: align, align: align, textVerticalAlign: 'middle', verticalAlign: 'middle'
    }
  };
}
graphic.push(seg(74.5, 7, 74.5, AXIS_Y + 0.5));
graphic.push(seg(658.5, 7, 658.5, AXIS_Y + 0.5));
graphic.push(seg(74, 7.5, 1240, 7.5));
graphic.push(seg(74, AXIS_Y + 0.5, 1240, AXIS_Y + 0.5));

sampleNames.forEach((name, r) => {
  graphic.push(label(96, ROWS[r].label, name, 21, 'left'));
  graphic.push(label(96, ROWS[r].label + 26, 'Oxidação: ' + oxidationPct[r].toFixed(1) + ' %', 21, 'left'));
});
graphic.push(label(614, 253, '300 K', 30, 'right'));
graphic.push(label(665, 253, '4.2 K', 30, 'left'));
graphic.push(label(641, 1702, 'Velocidade (mm/s)', 38, 'center'));
graphic.push(label(34, 834, 'Trasmissão relativa', 53, 'center', Math.PI / 2));

const chart = echarts.init(document.getElementById('chart'), null, {renderer: 'canvas'});
chart.setOption({
  animation: false,
  backgroundColor: '#fff',
  grid, xAxis, yAxis, series, graphic
});
</script>
</body>
</html>
